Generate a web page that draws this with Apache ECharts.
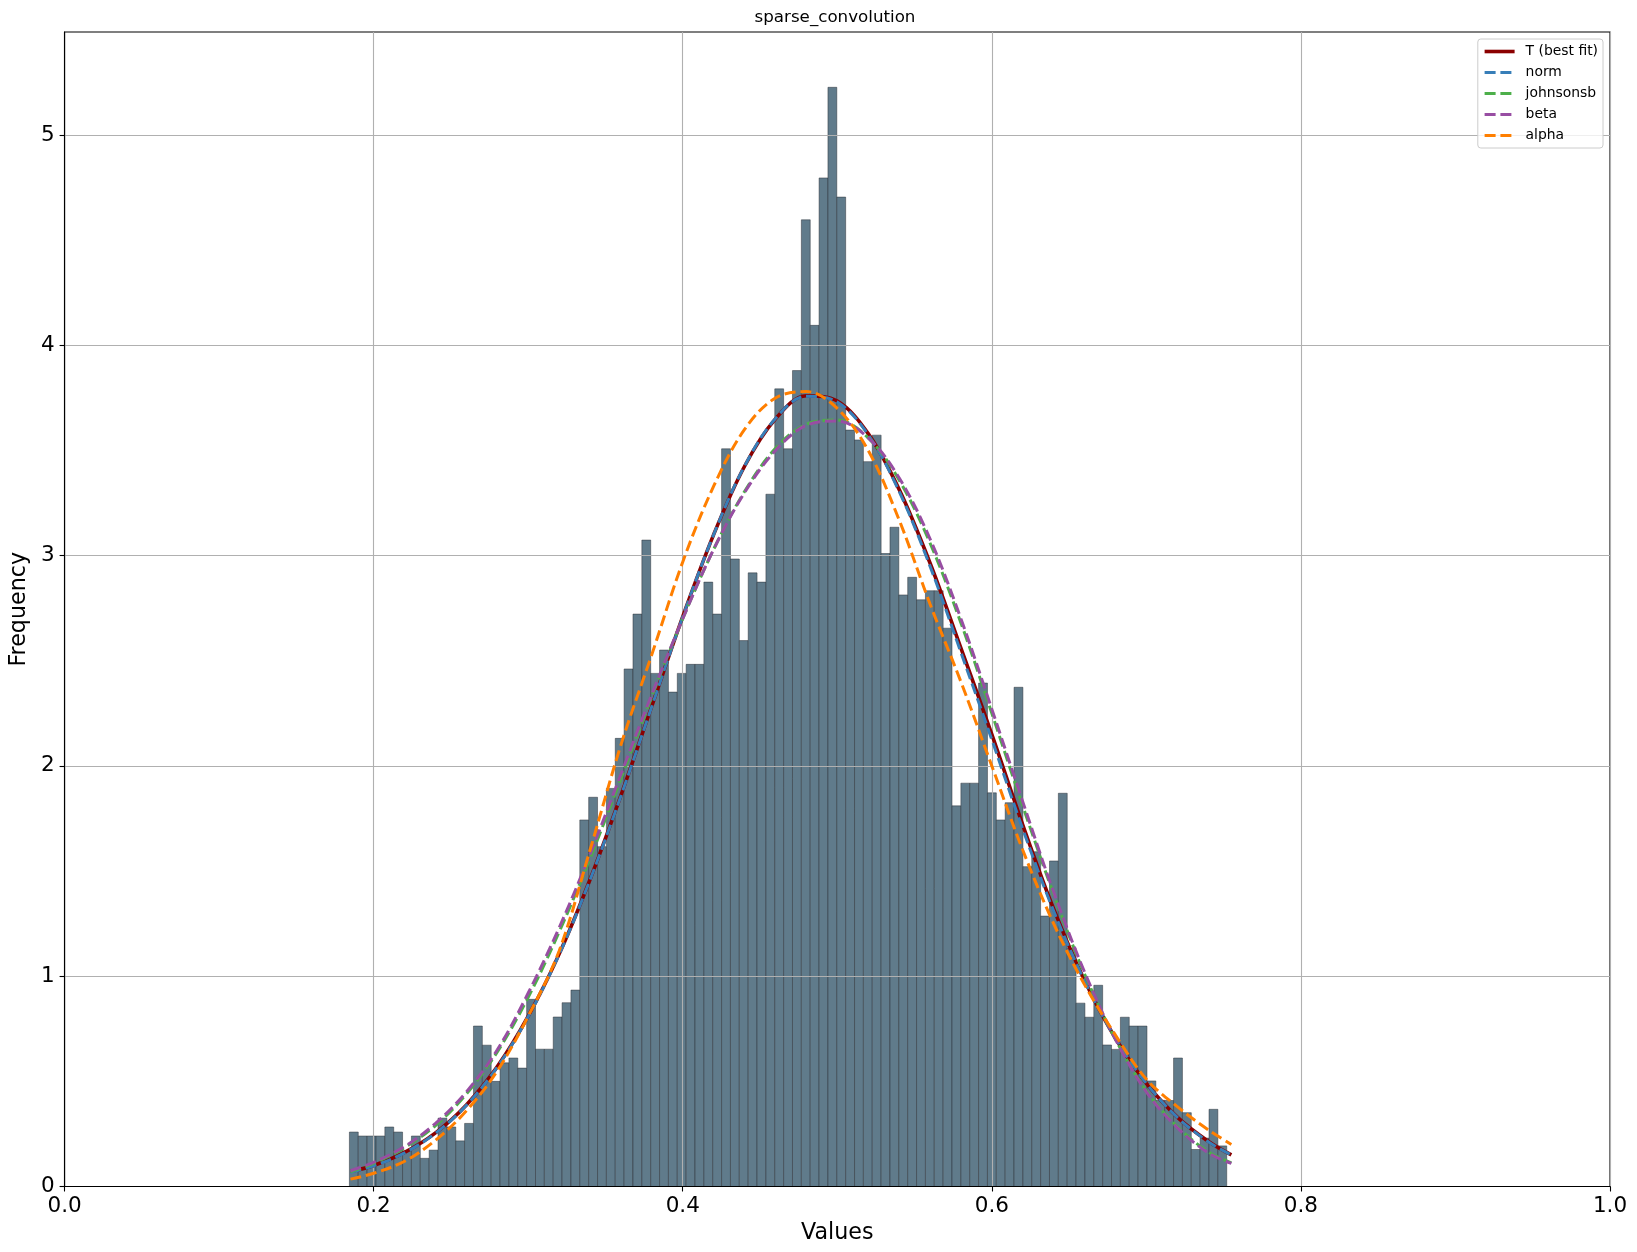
<!DOCTYPE html>
<html>
<head>
<meta charset="utf-8">
<title>sparse_convolution</title>
<script src="https://cdn.jsdelivr.net/npm/echarts@6.0.0/dist/echarts.min.js"></script>
<style>
  html, body { margin: 0; padding: 0; background: #fff; }
  #chart { width: 1637px; height: 1252px; }
</style>
</head>
<body>
<div id="chart"></div>
<script>
// histogram: 99 equal bins between binStart and binEnd
const binStart = 0.1843;
const binEnd = 0.7520;
const binHeights = [
  0.259, 0.240, 0.240, 0.240, 0.283, 0.259, 0.170, 0.240, 0.134, 0.173,
  0.325, 0.283, 0.217, 0.300, 0.763, 0.672, 0.500, 0.588, 0.611, 0.563,
  0.890, 0.653, 0.653, 0.806, 0.874, 0.934, 1.743, 1.851, 1.616, 1.893,
  2.131, 2.461, 2.722, 3.074, 2.440, 2.551, 2.351, 2.440, 2.483, 2.483,
  2.874, 2.722, 3.508, 2.984, 2.596, 2.918, 2.874, 3.292, 3.793, 3.508,
  3.880, 4.597, 4.095, 4.796, 5.227, 4.705, 3.597, 3.550, 3.447, 3.573,
  3.010, 3.135, 2.813, 2.897, 2.790, 2.833, 2.833, 2.655, 1.810, 1.918,
  1.918, 2.394, 1.872, 1.743, 1.825, 2.374, 1.521, 1.592, 1.286, 1.548,
  1.870, 1.133, 0.872, 0.805, 0.957, 0.673, 0.652, 0.805, 0.763, 0.763,
  0.502, 0.410, 0.409, 0.611, 0.351, 0.176, 0.230, 0.367, 0.193
];

// fitted curves, sampled at curveX
const curveX = [
  0.185, 0.20, 0.22, 0.24, 0.26, 0.28, 0.30, 0.32, 0.34, 0.36,
  0.38, 0.40, 0.42, 0.44, 0.46, 0.48, 0.50, 0.52, 0.54, 0.56,
  0.58, 0.60, 0.62, 0.64, 0.66, 0.68, 0.70, 0.72, 0.74, 0.755
];
const tBestFit = [
  0.072, 0.100, 0.162, 0.255, 0.388, 0.570, 0.810, 1.105, 1.460, 1.860,
  2.285, 2.710, 3.100, 3.425, 3.650, 3.760, 3.735, 3.580, 3.315, 2.965,
  2.560, 2.150, 1.720, 1.320, 0.980, 0.705, 0.490, 0.330, 0.215, 0.150
];
const normFit = [
  0.068, 0.098, 0.160, 0.253, 0.386, 0.568, 0.808, 1.103, 1.458, 1.857,
  2.283, 2.709, 3.100, 3.426, 3.652, 3.758, 3.731, 3.575, 3.306, 2.950,
  2.540, 2.125, 1.700, 1.310, 0.978, 0.705, 0.490, 0.329, 0.213, 0.150
];
const johnsonsbFit = [
  0.070, 0.110, 0.185, 0.290, 0.440, 0.640, 0.900, 1.210, 1.560, 1.940,
  2.330, 2.700, 3.030, 3.305, 3.510, 3.625, 3.645, 3.560, 3.360, 3.060,
  2.680, 2.250, 1.810, 1.390, 1.010, 0.700, 0.455, 0.285, 0.165, 0.112
];
const betaFit = [
  0.075, 0.115, 0.190, 0.300, 0.450, 0.650, 0.920, 1.230, 1.580, 1.960,
  2.340, 2.700, 3.030, 3.300, 3.500, 3.620, 3.640, 3.560, 3.370, 3.080,
  2.700, 2.270, 1.830, 1.400, 1.020, 0.700, 0.450, 0.280, 0.160, 0.110
];
const alphaFit = [
  0.035, 0.063, 0.120, 0.220, 0.360, 0.550, 0.810, 1.120, 1.600, 2.100,
  2.530, 2.970, 3.330, 3.600, 3.750, 3.780, 3.700, 3.500, 3.170, 2.770,
  2.400, 2.000, 1.600, 1.250, 0.960, 0.720, 0.510, 0.380, 0.270, 0.200
];

const yTickValues = [0, 1, 2, 3, 4, 5];
const yMax = 5.49;

const fits = [
  { name: "T (best fit)", values: tBestFit, color: "#8b0000", width: 3.6, dash: "solid" },
  { name: "norm", values: normFit, color: "#377eb8", width: 3, dash: [11, 4.8] },
  { name: "johnsonsb", values: johnsonsbFit, color: "#4daf4a", width: 3, dash: [11, 4.8] },
  { name: "beta", values: betaFit, color: "#984ea3", width: 3, dash: [11, 4.8] },
  { name: "alpha", values: alphaFit, color: "#ff7f00", width: 3, dash: [11, 4.8] }
];

const binWidth = (binEnd - binStart) / binHeights.length;
const histData = binHeights.map((h, i) => [binStart + i * binWidth, binStart + (i + 1) * binWidth, h]);

const font = "DejaVu Sans";
const myChart = echarts.init(document.getElementById("chart"));

const option = {
  animation: false,
  backgroundColor: "#ffffff",
  textStyle: { fontFamily: font },
  title: {
    text: "sparse_convolution",
    left: 835,
    top: 9,
    padding: 0,
    textAlign: "center",
    textStyle: { fontFamily: font, fontSize: 16.7, fontWeight: "normal", color: "#000" }
  },
  grid: {
    left: 60,
    right: 27,
    top: 32,
    bottom: 65.5,
    show: true,
    borderColor: "#000",
    borderWidth: 1.1,
    backgroundColor: "transparent"
  },
  legend: {
    orient: "vertical",
    right: 34,
    top: 39,
    align: "left",
    padding: [5.5, 5, 5.5, 5],
    itemWidth: 30,
    itemHeight: 14,
    itemGap: 7,
    backgroundColor: "rgba(255,255,255,0.8)",
    borderColor: "#cccccc",
    borderWidth: 1,
    borderRadius: 3,
    itemStyle: { opacity: 0 },
    textStyle: { fontFamily: font, fontSize: 13.9, color: "#000", padding: [0, 0, 0, 6] },
    data: fits.map(f => ({ name: f.name, itemStyle: { opacity: 0 }, lineStyle: { width: f.width } }))
  },
  xAxis: {
    type: "value",
    min: 0,
    max: 1,
    interval: 0.2,
    name: "Values",
    nameLocation: "middle",
    nameGap: 34,
    nameTextStyle: { fontFamily: font, fontSize: 22.2, color: "#000" },
    z: 2,
    axisLine: { show: true, lineStyle: { color: "#000", width: 1.1 } },
    axisTick: { show: true, length: 5, lineStyle: { color: "#000", width: 1.1 } },
    axisLabel: {
      margin: 9,
      fontSize: 21.5,
      color: "#000",
      fontFamily: font,
      formatter: v => v.toFixed(1)
    },
    splitLine: { show: true, lineStyle: { color: "#b0b0b0", width: 1.1 } }
  },
  yAxis: {
    type: "value",
    min: 0,
    max: yMax,
    interval: 1,
    name: "Frequency",
    nameLocation: "middle",
    nameGap: 23,
    nameTextStyle: { fontFamily: font, fontSize: 22.2, color: "#000" },
    z: 2,
    axisLine: { show: true, lineStyle: { color: "#000", width: 1.1 } },
    axisTick: { show: true, length: 5, customValues: yTickValues, lineStyle: { color: "#000", width: 1.1 } },
    axisLabel: {
      margin: 10,
      fontSize: 21.5,
      color: "#000",
      fontFamily: font,
      customValues: yTickValues
    },
    splitLine: { show: true, lineStyle: { color: "#b0b0b0", width: 1.1 } }
  },
  series: [
    {
      type: "custom",
      name: "hist",
      z: 1,
      data: histData,
      encode: { x: [0, 1], y: 2 },
      renderItem: (params, api) => {
        const p0 = api.coord([api.value(0), 0]);
        const p1 = api.coord([api.value(1), api.value(2)]);
        return {
          type: "rect",
          shape: { x: p0[0], y: p1[1], width: p1[0] - p0[0], height: p0[1] - p1[1] },
          style: { fill: "#607b8b", stroke: "rgba(40,45,50,0.6)", lineWidth: 0.8 }
        };
      }
    },
    ...fits.map(f => ({
      type: "line",
      name: f.name,
      z: 3,
      data: curveX.map((x, i) => [x, f.values[i]]),
      showSymbol: false,
      symbol: "none",
      smooth: 0.35,
      lineStyle: { color: f.color, width: f.width, type: f.dash },
      itemStyle: { color: f.color }
    }))
  ]
};
myChart.setOption(option);
</script>
</body>
</html>
